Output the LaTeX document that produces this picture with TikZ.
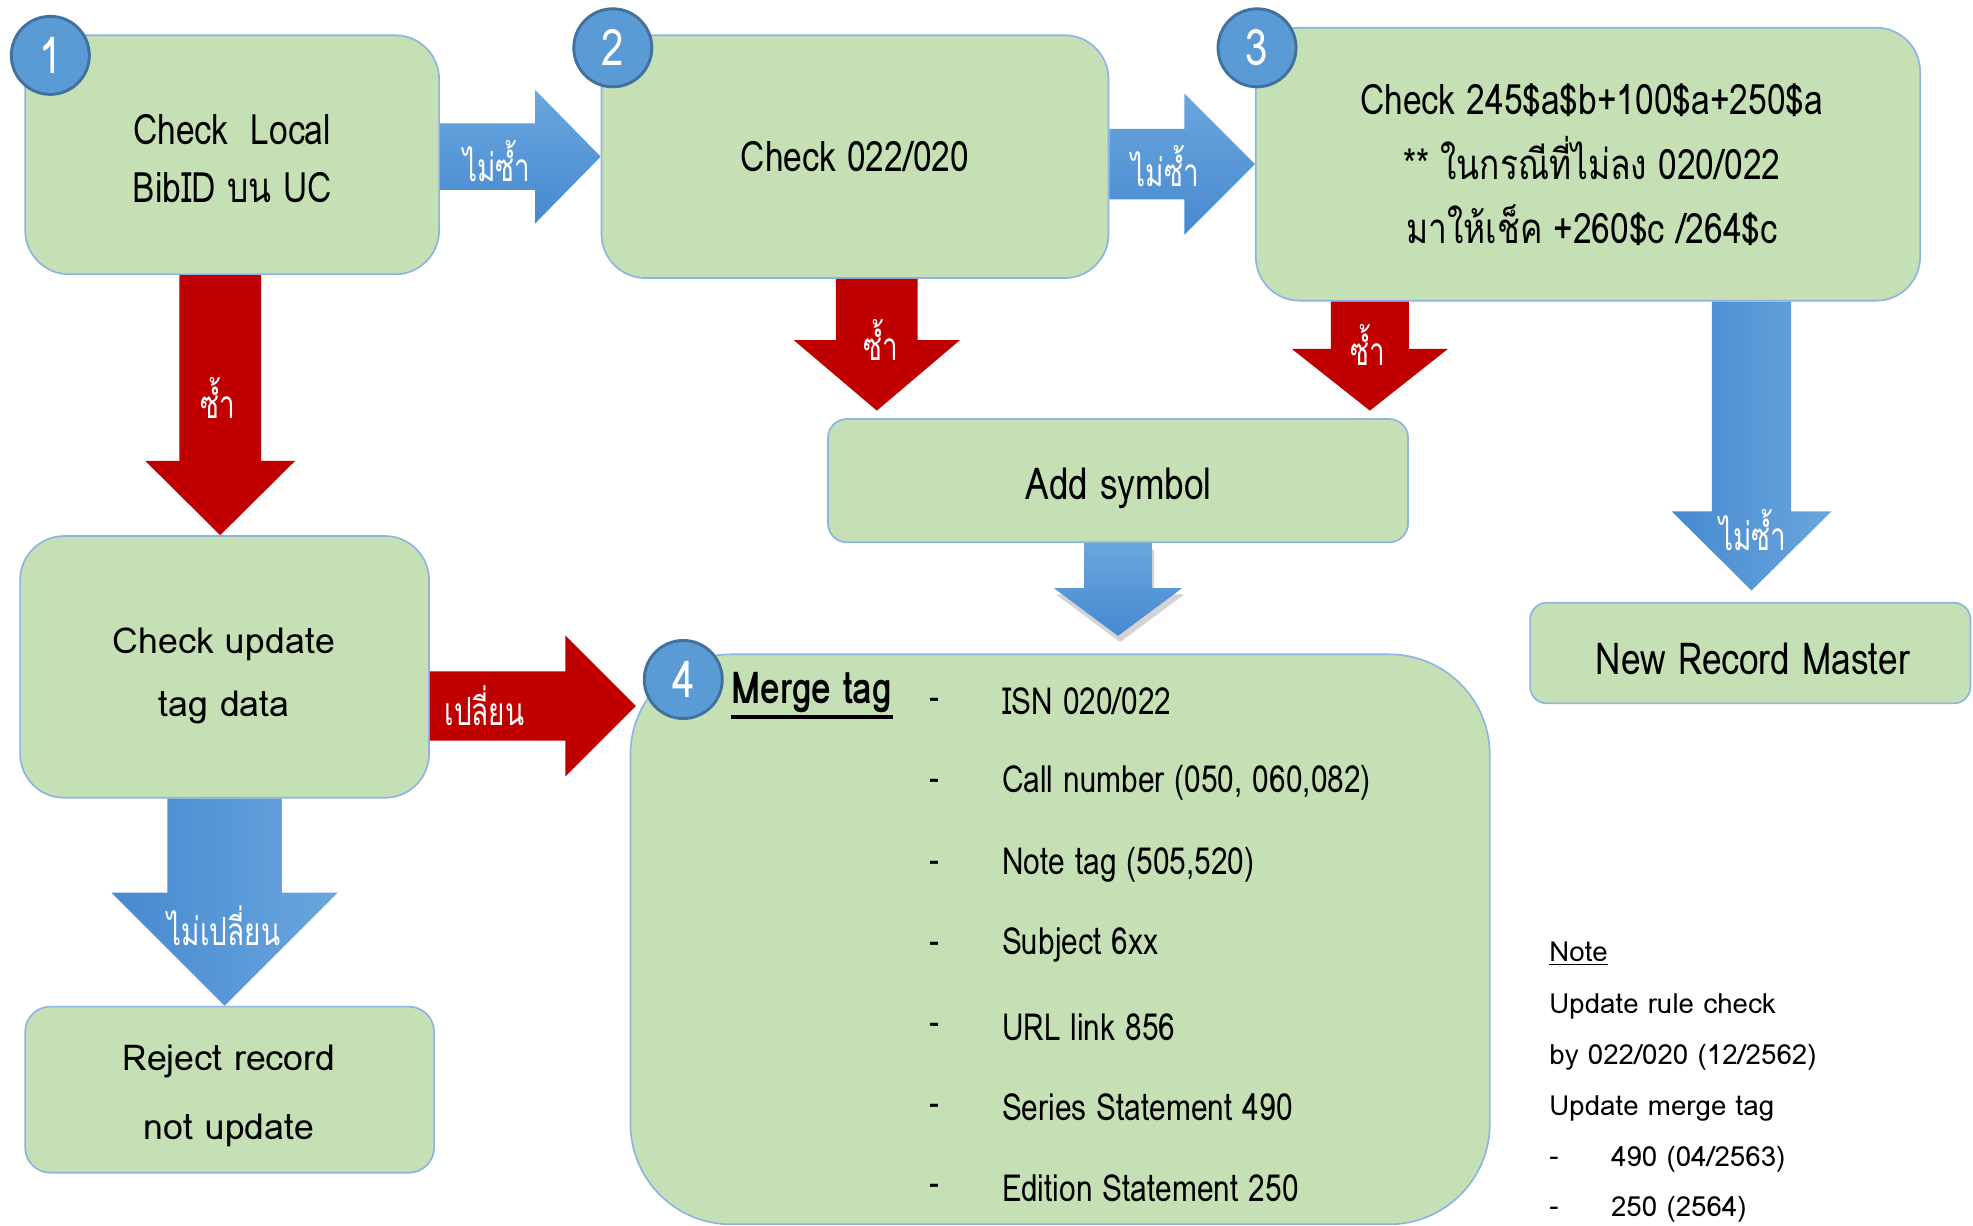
\documentclass[tikz,border=0pt]{standalone}
\usepackage{fontspec}
\setmainfont{Loma}[Script=Thai]
\newfontfamily\narrowthai{Loma}[Script=Thai,FakeStretch=0.8]
\newfontfamily\labelthai{Loma}[Script=Thai,FakeStretch=0.72]
\usetikzlibrary{calc,shadows}

\definecolor{boxgreen}{HTML}{C5E0B4}
\definecolor{boxline}{HTML}{8EB4E3}
\definecolor{numblue}{HTML}{5B9BD5}
\definecolor{numline}{HTML}{41719C}
\definecolor{flowred}{HTML}{C00000}
\definecolor{flowblue}{HTML}{4789D0}
\definecolor{flowlight}{HTML}{6AA6DE}

\newcommand\pxu{0.6pt}

% fat arrows: source anchor, tip, half shaft, half head, head length, style
\newcommand\rightblock[6]{%
  \coordinate (T) at #2;
  \coordinate (S) at (#1 |- T);
  \path[#6] ($(S)+(0,-#3)$) -- ($(T)+(-#5,-#3)$) -- ($(T)+(-#5,-#4)$) -- (T)
    -- ($(T)+(-#5,#4)$) -- ($(T)+(-#5,#3)$) -- ($(S)+(0,#3)$) -- cycle;}
\newcommand\downblock[6]{%
  \coordinate (T) at #2;
  \coordinate (S) at (#1 -| T);
  \path[#6] ($(S)+(-#3,0)$) -- ($(T)+(-#3,-#5)$) -- ($(T)+(-#4,-#5)$) -- (T)
    -- ($(T)+(#4,-#5)$) -- ($(T)+(#3,-#5)$) -- ($(S)+(#3,0)$) -- cycle;}

\begin{document}
\begin{tikzpicture}[x=0.6pt,y=-0.6pt,
box/.style={draw=boxline, fill=boxgreen, line width=0.8pt, inner sep=0pt},
txt/.style={align=center, inner sep=0pt},
num/.style={circle, fill=numblue, draw=numline, line width=1.4pt, minimum size=62*\pxu, inner sep=0pt, text=white, font=\narrowthai\fontsize{24}{24}\selectfont},
lbl/.style={text=white, inner sep=0pt, font=\labelthai\fontsize{18.5}{20}\selectfont},
item/.style={anchor=west, inner sep=0pt, font=\narrowthai\fontsize{17.8}{20}\selectfont},
dashmark/.style={inner sep=0pt, font=\narrowthai\fontsize{17.8}{20}\selectfont},
notetext/.style={anchor=west, inner sep=0pt, font=\fontsize{13.2}{16}\selectfont},
redflow/.style={fill=flowred},
blueflow/.style={left color=flowblue, right color=flowlight},
bluerflow/.style={top color=flowlight, bottom color=flowblue},
]

\useasboundingbox (0,0) rectangle (1568,974);
%\draw[help lines,yellow,thin] (0,0) grid[step=100] (1568,974);

\node [box, minimum width=329*\pxu, minimum height=190*\pxu, rounded corners=21pt] (local) at (184.5,123) {};
\node [box, minimum width=403*\pxu, minimum height=193*\pxu, rounded corners=21pt] (ck2) at (679.5,124.5) {};
\node [box, minimum width=528*\pxu, minimum height=217*\pxu, rounded corners=21pt] (ck3) at (1262,130.5) {};
\node [box, minimum width=461*\pxu, minimum height=98*\pxu, rounded corners=9pt] (addsym) at (888.5,382) {};
\node [box, minimum width=350*\pxu, minimum height=80*\pxu, rounded corners=8pt] (newrec) at (1391,519) {};
\node [box, minimum width=325*\pxu, minimum height=208*\pxu, rounded corners=21pt] (upd) at (178.5,530) {};
\node [box, minimum width=325*\pxu, minimum height=132*\pxu, rounded corners=12pt] (reject) at (182.5,866) {};
\node [box, minimum width=683*\pxu, minimum height=453*\pxu, rounded corners=48pt] (merge) at (842.5,746.5) {};

\node [txt, font=\narrowthai\fontsize{20}{27.6}\selectfont] (localt) at (184.5,126) {Check\ \ Local\\BibID บน UC};
\node [txt, font=\narrowthai\fontsize{20}{30}\selectfont] (ck2t) at (679.5,124.5) {Check 022/020};
\node [txt, font=\narrowthai\fontsize{20}{30.6}\selectfont] (ck3t) at (1265,131) {Check 245\$a\$b+100\$a+250\$a\\** ในกรณีที่ไม่ลง 020/022\\มาให้เช็ค +260\$c /264\$c};
\node [txt, font=\narrowthai\fontsize{21}{30}\selectfont] (addsymt) at (889,388) {Add symbol};
\node [txt, font=\narrowthai\fontsize{21}{30}\selectfont] (newrect) at (1393,524) {New Record Master};
\node [txt, font=\fontsize{17}{30}\selectfont] (updt) at (178,537) {Check update\\tag data};
\node [txt, font=\fontsize{17}{33}\selectfont] (rejectt) at (182,871) {Reject record\\not update};

\rightblock{local.east}{(ck2.west)}{26.5}{53}{52}{bluerflow}
\rightblock{ck2.east}{(ck3.west)}{28}{56}{56}{bluerflow}
\downblock{local.south}{($(upd.north)+(-3.5,0)$)}{32.5}{59.5}{59}{redflow}
\downblock{ck2.south}{($(addsym.north west)+(39.5,-6)$)}{32.5}{66}{56}{redflow}
\downblock{ck3.south}{($(addsym.north east)+(-31,-6)$)}{31}{62}{49}{redflow}
\downblock{ck3.south}{($(newrec.north)+(1,-9)$)}{31.5}{63.5}{63}{blueflow}
\downblock{addsym.south}{($(addsym.south |- merge.north)+(0,-14)$)}{27}{51}{38}{bluerflow, drop shadow={opacity=0.35, shadow xshift=1pt, shadow yshift=-3pt}}
\rightblock{upd.east}{($(upd.east -| merge.west)+(5,31)$)}{27.5}{56}{56}{redflow}
\downblock{upd.south}{(upd.south |- reject.north)}{45.5}{90}{90}{blueflow}

\node [lbl] (n12) at (395,128) {ไม่ซ้ำ};
\node [lbl] (n23) at (926,132) {ไม่ซ้ำ};
\node [lbl] (r1) at (173,316) {ซ้ำ};
\node [lbl] (r2) at (700,270) {ซ้ำ};
\node [lbl] (r3) at (1087,274) {ซ้ำ};
\node [lbl] (n3) at (1393,421) {ไม่ซ้ำ};
\node [lbl] (chg) at (385,561) {เปลี่ยน};
\node [lbl] (nochg) at (178,736) {ไม่เปลี่ยน};

\node [num] (c1) at (40,44) {1};
\node [num] (c2) at (487,38) {2};
\node [num] (c3) at (999,38) {3};
\node [num] (c4) at (543,540) {4};

\node [item, font=\narrowthai\bfseries\fontsize{21}{24}\selectfont] (mtag) at (581,550) {Merge tag};
\draw [line width=1.6pt] ([yshift=-2pt]mtag.south west) -- ([yshift=-2pt]mtag.south east);

\node [dashmark] (d1) at (743,559) {-};
\node [dashmark] (d2) at (743,624) {-};
\node [dashmark] (d3) at (743,689) {-};
\node [dashmark] (d4) at (743,753) {-};
\node [dashmark] (d5) at (743,818) {-};
\node [dashmark] (d6) at (743,882) {-};
\node [dashmark] (d7) at (743,946) {-};

\node [item] (m1) at (796,557) {ISN 020/022};
\node [item] (m2) at (796,622) {Call number (050, 060,082)};
\node [item] (m3) at (796,687) {Note tag (505,520)};
\node [item] (m4) at (796,751) {Subject 6xx};
\node [item] (m5) at (796,816) {URL link 856};
\node [item] (m6) at (796,880) {Series Statement 490};
\node [item] (m7) at (796,944) {Edition Statement 250};

\node [notetext] (nt) at (1231,758) {\underline{Note}};
\node [notetext] (nt1) at (1231,800) {Update rule check};
\node [notetext] (nt2) at (1231,840) {by 022/020 (12/2562)};
\node [notetext] (nt3) at (1231,881) {Update merge tag};
\node [notetext] (nd4) at (1231,923) {-};
\node [notetext] (nt4) at (1280,921) {490 (04/2563)};
\node [notetext] (nd5) at (1231,963) {-};
\node [notetext] (nt5) at (1280,961) {250 (2564)};
\end{tikzpicture}
\end{document}
